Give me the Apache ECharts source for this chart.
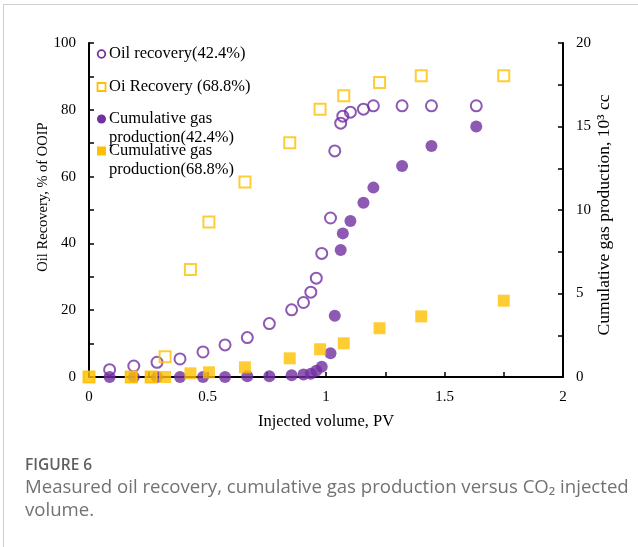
<!DOCTYPE html>
<html>
<head>
<meta charset="utf-8">
<script src="https://cdn.jsdelivr.net/npm/echarts@6/dist/echarts.min.js"></script>
<style>
  html, body { margin: 0; padding: 0; background: #fff; }
  #chart { width: 638px; height: 547px; }
</style>
</head>
<body>
<div id="chart"></div>
<script>
// Core flood at 42.4% recovery case: injected PV, oil recovery (% OOIP), cumulative gas (10^3 cc)
const injected42 = [0.087, 0.189, 0.287, 0.384, 0.481, 0.574, 0.668, 0.761, 0.855, 0.905, 0.936, 0.959, 0.982, 1.019, 1.037, 1.062, 1.071, 1.103, 1.158, 1.200, 1.321, 1.445, 1.634];
const oil42      = [2.2, 3.3, 4.4, 5.4, 7.5, 9.6, 11.8, 16.0, 20.1, 22.3, 25.4, 29.6, 37.0, 47.6, 67.7, 76.0, 78.1, 79.3, 80.2, 81.2, 81.2, 81.2, 81.2];
const gas42      = [0, 0, 0, 0, 0, 0, 0.05, 0.05, 0.1, 0.15, 0.2, 0.38, 0.62, 1.42, 3.67, 7.6, 8.6, 9.34, 10.44, 11.34, 12.63, 13.83, 15.0];

// Core flood at 68.8% recovery case
const injected68 = [0, 0.178, 0.262, 0.321, 0.428, 0.506, 0.658, 0.847, 0.975, 1.075, 1.226, 1.402, 1.750];
const oil68      = [0, 0, 0, 6.1, 32.2, 46.4, 58.4, 70.1, 80.2, 84.2, 88.2, 90.2, 90.2];
const gas68      = [0, 0, 0, 0, 0.22, 0.28, 0.58, 1.12, 1.66, 2.02, 2.92, 3.63, 4.57];

// Axis tick labels
const xTicks = [0, 0.5, 1, 1.5, 2];
const leftTicks = [0, 20, 40, 60, 80, 100];
const rightTicks = [0, 5, 10, 15, 20];

const legendNames = [
  'Oil recovery(42.4%)',
  'Oi Recovery (68.8%)',
  'Cumulative gas\nproduction(42.4%)',
  'Cumulative gas\nproduction(68.8%)'
];

const PURPLE = '#7030A0';
const GOLD = '#FFC000';
const SERIF = '"Liberation Serif", "Times New Roman", serif';
const SANS = '"Open Sans", "Noto Sans", sans-serif';

const pairs = (xs, ys) => xs.map((x, i) => [x, ys[i]]);

function axisCommon(ticks) {
  return {
    min: ticks[0],
    max: ticks[ticks.length - 1],
    interval: ticks[1] - ticks[0],
    nameLocation: 'middle',
    nameMoveOverlap: false,
    axisLine: { show: true, onZero: false, lineStyle: { color: '#000', width: 2 } },
    axisTick: { show: true, inside: true, length: 5, lineStyle: { color: '#000', width: 1.5 } },
    minorTick: { show: true, splitNumber: 2, length: 5, lineStyle: { color: '#000', width: 1.5 } },
    splitLine: { show: false },
    axisLabel: { color: '#000', fontFamily: SERIF, fontSize: 15, margin: 13 }
  };
}

const chart = echarts.init(document.getElementById('chart'), null, { renderer: 'canvas' });

// Legend drawn as graphic items so wrapped labels keep the marker beside the first line
const legendGraphics = [];
const legendRows = [54, 87, 119, 151];
const markerX = 101.5;
legendRows.forEach((y, i) => {
  let marker;
  if (i === 0) {
    marker = { type: 'circle', shape: { cx: markerX, cy: y, r: 3.8 }, style: { fill: 'none', stroke: PURPLE, lineWidth: 1.8 } };
  } else if (i === 1) {
    marker = { type: 'rect', shape: { x: markerX - 4, y: y - 4, width: 8, height: 8 }, style: { fill: 'none', stroke: GOLD, lineWidth: 1.8 } };
  } else if (i === 2) {
    marker = { type: 'circle', shape: { cx: markerX, cy: y, r: 4.5 }, style: { fill: PURPLE } };
  } else {
    marker = { type: 'rect', shape: { x: markerX - 4.5, y: y - 4.5, width: 9, height: 9 }, style: { fill: GOLD } };
  }
  legendGraphics.push(marker);
  legendGraphics.push({
    type: 'text',
    x: 109,
    y: y - 9.5,
    style: {
      text: legendNames[i],
      font: '16.5px ' + SERIF,
      fill: '#000',
      verticalAlign: 'top',
      lineHeight: 18.5
    }
  });
});

const option = {
  backgroundColor: '#fff',
  animation: false,
  grid: { left: 89, top: 43, width: 474, height: 334, outerBoundsMode: 'none' },
  xAxis: Object.assign(axisCommon(xTicks), {
    type: 'value',
    name: 'Injected volume, PV',
    nameGap: 36,
    nameTextStyle: { color: '#000', fontFamily: SERIF, fontSize: 16.5 }
  }),
  yAxis: [
    Object.assign(axisCommon(leftTicks), {
      type: 'value',
      position: 'left',
      name: 'Oil Recovery, % of OOIP',
      nameGap: 38,
      nameTextStyle: { color: '#000', fontFamily: SERIF, fontSize: 14.5, padding: [0, 0, 0, 26] }
    }),
    Object.assign(axisCommon(rightTicks), {
      type: 'value',
      position: 'right',
      name: 'Cumulative gas production, 10³ cc',
      nameGap: 32,
      nameTextStyle: { color: '#000', fontFamily: SERIF, fontSize: 17.5, padding: [0, 10, 0, 0] }
    })
  ],
  series: [
    {
      name: legendNames[0], type: 'scatter', yAxisIndex: 0, z: 2,
      symbol: 'circle', symbolSize: 11,
      itemStyle: { color: 'rgba(255,255,255,0)', borderColor: PURPLE, borderWidth: 2 },
      data: pairs(injected42, oil42)
    },
    {
      name: legendNames[2], type: 'scatter', yAxisIndex: 1, z: 3,
      symbol: 'circle', symbolSize: 12,
      itemStyle: { color: PURPLE },
      data: pairs(injected42, gas42)
    },
    {
      name: legendNames[1], type: 'scatter', yAxisIndex: 0, z: 4,
      symbol: 'rect', symbolSize: 11,
      itemStyle: { color: 'rgba(255,255,255,0)', borderColor: GOLD, borderWidth: 2 },
      data: pairs(injected68, oil68)
    },
    {
      name: legendNames[3], type: 'scatter', yAxisIndex: 1, z: 5,
      symbol: 'rect', symbolSize: 12,
      itemStyle: { color: GOLD },
      data: pairs(injected68, gas68)
    }
  ],
  graphic: [
    // card border
    { type: 'rect', shape: { x: 3.5, y: 4.5, width: 700, height: 600 }, style: { fill: 'none', stroke: '#cfcfcf', lineWidth: 1 }, z: -1 },
    { type: 'text', x: 25, y: 466, style: { text: 'FIGURE 6', font: '600 15.5px ' + SANS, fill: '#5f5f5f', verticalAlign: 'middle' } },
    { type: 'text', x: 25, y: 488, style: { text: 'Measured oil recovery, cumulative gas production versus CO₂ injected', font: '18.6px ' + SANS, fill: '#727272', verticalAlign: 'middle' } },
    { type: 'text', x: 25, y: 511, style: { text: 'volume.', font: '18.6px ' + SANS, fill: '#727272', verticalAlign: 'middle' } }
  ].concat(legendGraphics)
};

chart.setOption(option);
</script>
</body>
</html>
